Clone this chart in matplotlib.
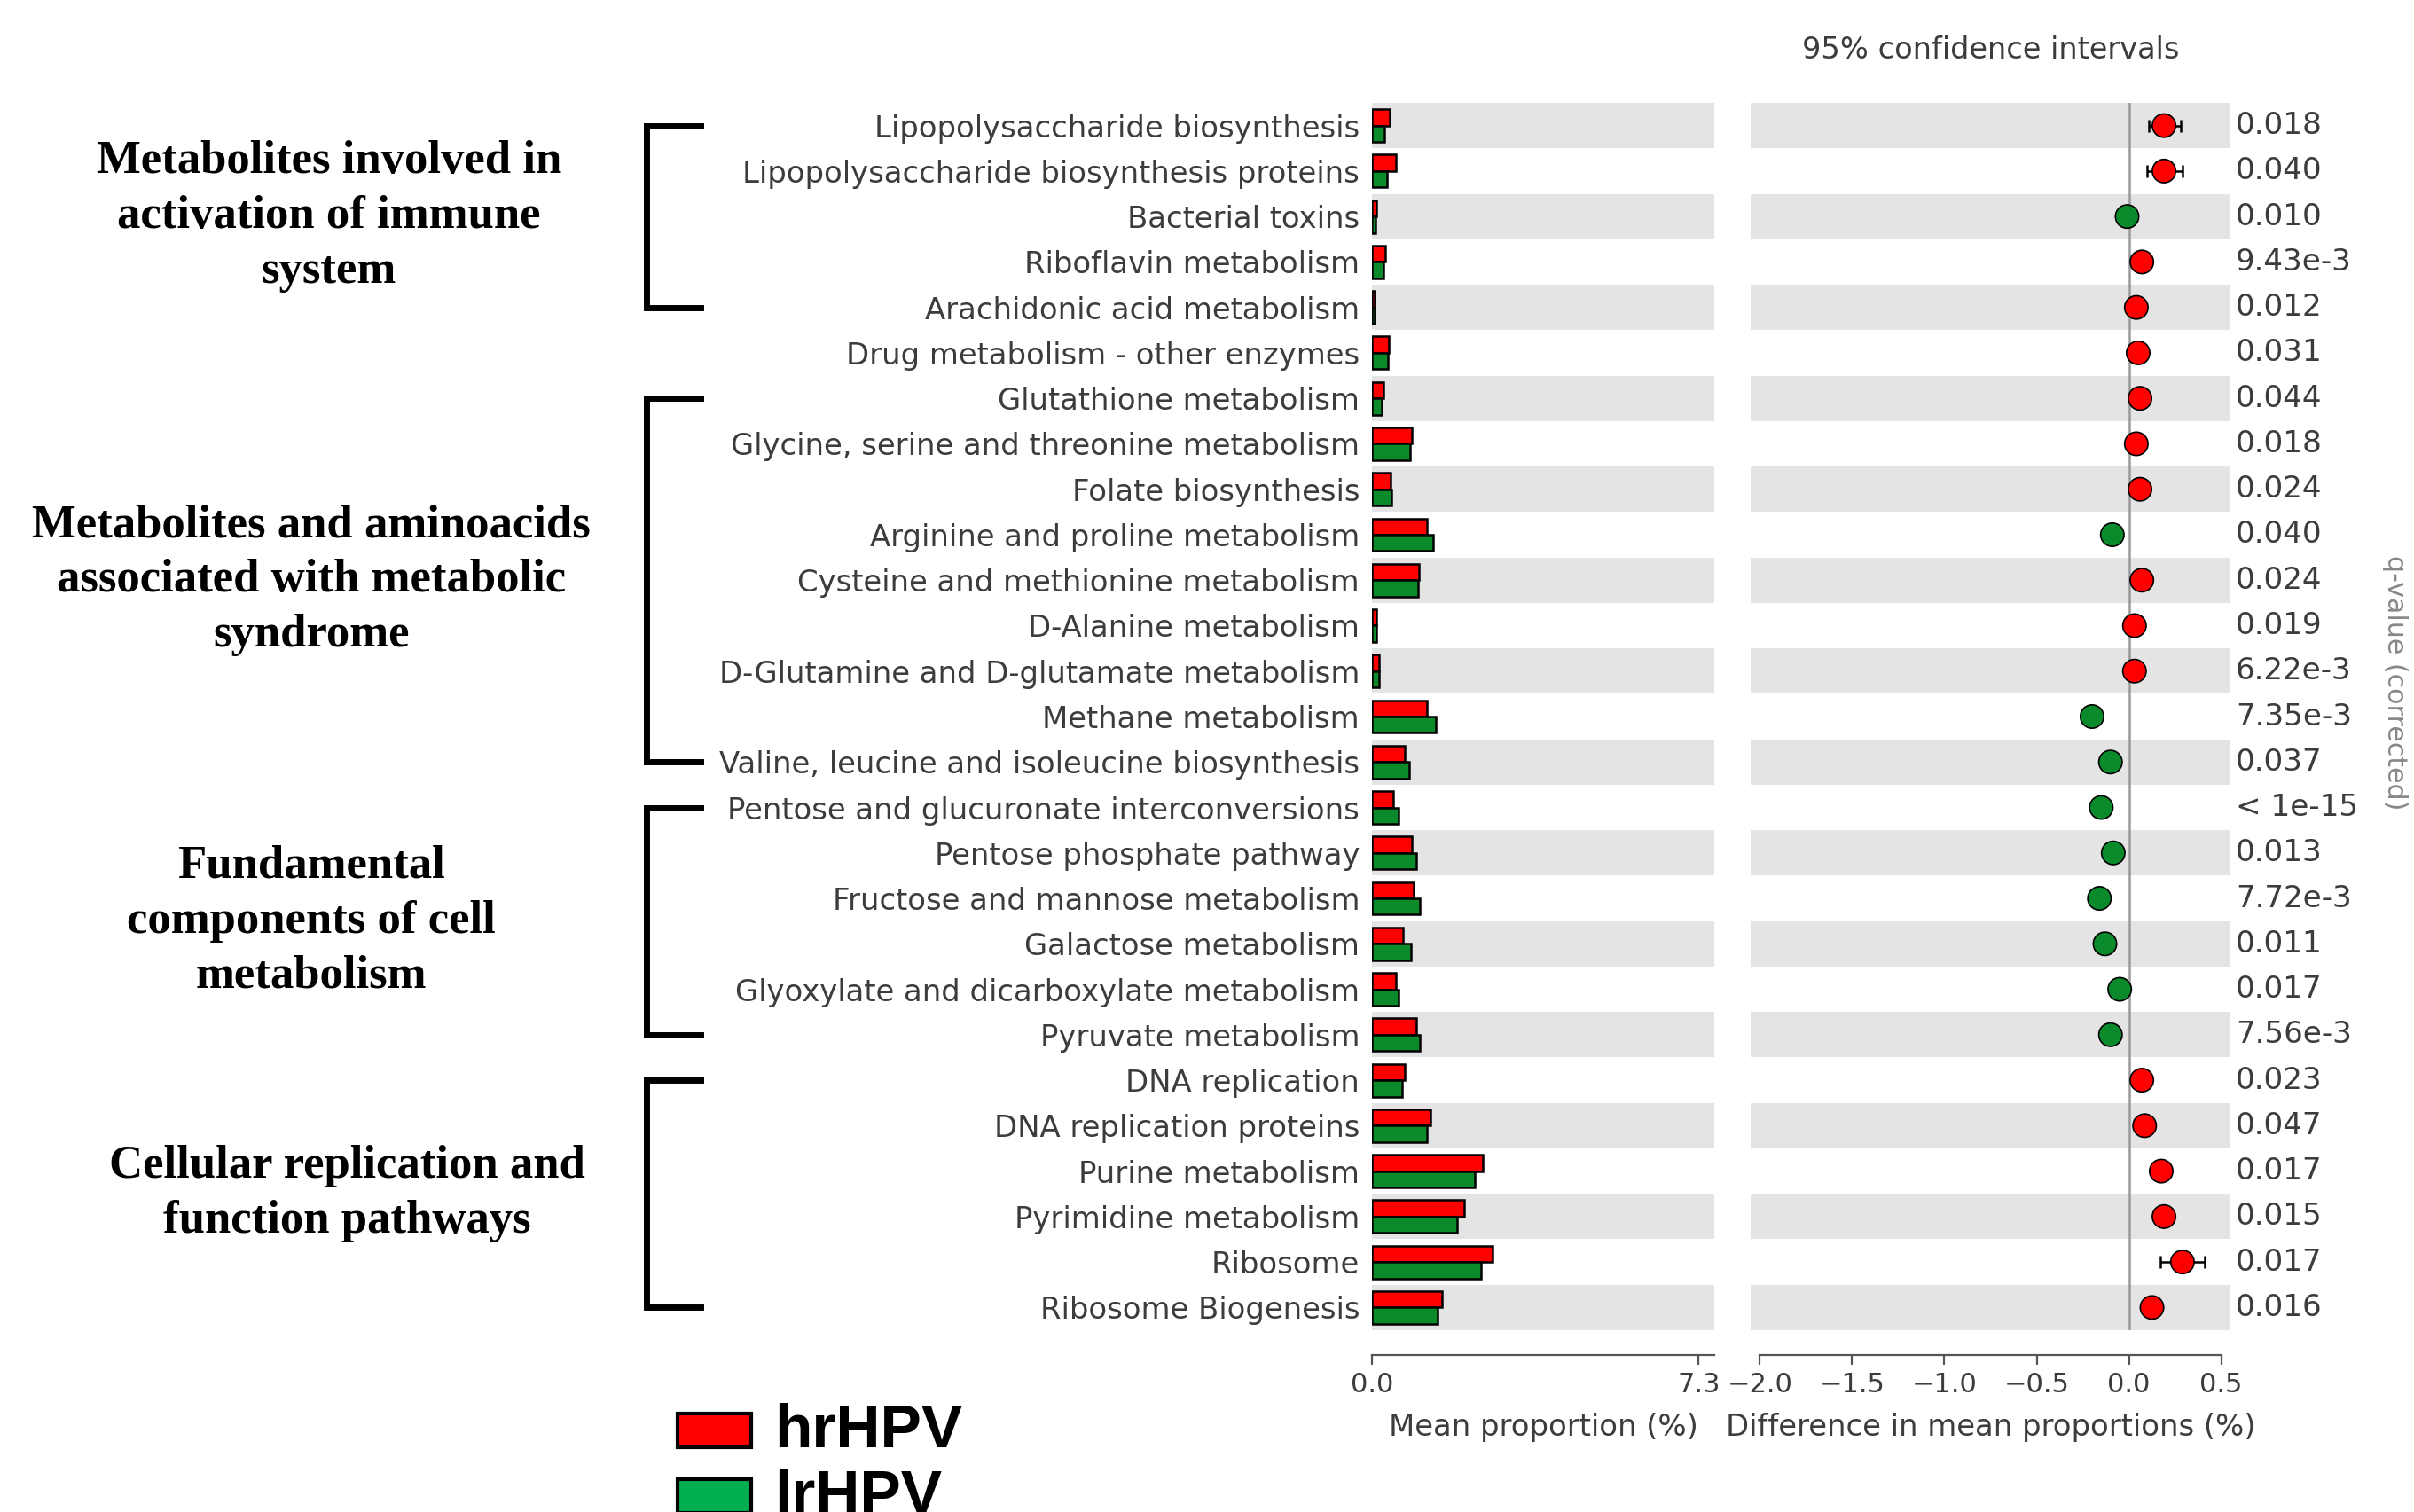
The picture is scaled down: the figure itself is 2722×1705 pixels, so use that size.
import numpy as np
import matplotlib
matplotlib.use("Agg")
import matplotlib.pyplot as plt
from matplotlib.patches import Rectangle
from matplotlib.lines import Line2D
from matplotlib.transforms import blended_transform_factory

# pathways, top to bottom
pathways = [
    "Lipopolysaccharide biosynthesis",
    "Lipopolysaccharide biosynthesis proteins",
    "Bacterial toxins",
    "Riboflavin metabolism",
    "Arachidonic acid metabolism",
    "Drug metabolism - other enzymes",
    "Glutathione metabolism",
    "Glycine, serine and threonine metabolism",
    "Folate biosynthesis",
    "Arginine and proline metabolism",
    "Cysteine and methionine metabolism",
    "D-Alanine metabolism",
    "D-Glutamine and D-glutamate metabolism",
    "Methane metabolism",
    "Valine, leucine and isoleucine biosynthesis",
    "Pentose and glucuronate interconversions",
    "Pentose phosphate pathway",
    "Fructose and mannose metabolism",
    "Galactose metabolism",
    "Glyoxylate and dicarboxylate metabolism",
    "Pyruvate metabolism",
    "DNA replication",
    "DNA replication proteins",
    "Purine metabolism",
    "Pyrimidine metabolism",
    "Ribosome",
    "Ribosome Biogenesis",
]

# mean proportion (%)
hr_mean = [0.40, 0.54, 0.09, 0.30, 0.05, 0.38, 0.26, 0.90, 0.42, 1.22, 1.06,
           0.10, 0.16, 1.23, 0.73, 0.47, 0.90, 0.93, 0.70, 0.53, 1.00,
           0.73, 1.30, 2.47, 2.07, 2.70, 1.57]
lr_mean = [0.28, 0.34, 0.08, 0.26, 0.05, 0.36, 0.22, 0.86, 0.44, 1.36, 1.03,
           0.10, 0.16, 1.43, 0.83, 0.60, 1.00, 1.07, 0.87, 0.60, 1.07,
           0.67, 1.23, 2.30, 1.90, 2.43, 1.47]

# difference in mean proportions (%) with 95% CI
diff = [0.19, 0.19, -0.01, 0.07, 0.04, 0.05, 0.06, 0.04, 0.06, -0.09, 0.07,
        0.03, 0.03, -0.20, -0.10, -0.15, -0.085, -0.16, -0.13, -0.05, -0.10,
        0.07, 0.085, 0.175, 0.19, 0.29, 0.125]
ci_low = [0.11, 0.10, -0.03, 0.05, 0.02, 0.03, 0.04, 0.02, 0.04, -0.12, 0.05,
          0.02, 0.02, -0.23, -0.13, -0.18, -0.11, -0.19, -0.16, -0.07, -0.13,
          0.05, 0.06, 0.13, 0.14, 0.17, 0.10]
ci_high = [0.28, 0.29, 0.01, 0.09, 0.06, 0.07, 0.08, 0.06, 0.08, -0.06, 0.09,
           0.04, 0.04, -0.17, -0.07, -0.12, -0.06, -0.13, -0.10, -0.03, -0.07,
           0.09, 0.11, 0.22, 0.24, 0.41, 0.15]

qvalues = ["0.018", "0.040", "0.010", "9.43e-3", "0.012", "0.031", "0.044",
           "0.018", "0.024", "0.040", "0.024", "0.019", "6.22e-3", "7.35e-3",
           "0.037", "< 1e-15", "0.013", "7.72e-3", "0.011", "0.017", "7.56e-3",
           "0.023", "0.047", "0.017", "0.015", "0.017", "0.016"]

groups = [
    "Metabolites involved in\nactivation of immune\nsystem",
    "Metabolites and aminoacids\nassociated with metabolic\nsyndrome",
    "Fundamental\ncomponents of cell\nmetabolism",
    "Cellular replication and\nfunction pathways",
]
group_rows = [(0, 4), (6, 14), (15, 20), (21, 26)]
group_x = [371, 351, 351, 391]   # label centres, pixels

RED = "#ff0000"
GREEN = "#0a8a2a"
TXT = "#3c3c3c"
BAND = "#e4e4e4"

W, H = 2722, 1705
def fx(px):
    return px / W
def fy(py):
    return 1 - py / H

fig = plt.figure(figsize=(W / 200, H / 200), dpi=200)
plt.rcParams['font.family'] = ['DejaVu Sans']

top, bot = 116, 1500
ax1 = fig.add_axes([fx(1547), fy(bot), (1933 - 1547) / W, (bot - top) / H])
ax2 = fig.add_axes([fx(1974), fy(bot), (2515 - 1974) / W, (bot - top) / H])

n = len(pathways)
y = np.arange(n)

for ax in (ax1, ax2):
    for i in range(0, n, 2):
        ax.axhspan(i - 0.5, i + 0.5, color=BAND, lw=0, zorder=0)
    ax.set_ylim(n - 0.5, -0.5)
    for s in ("top", "right", "left"):
        ax.spines[s].set_visible(False)
    ax.spines["bottom"].set_position(("outward", 10))
    ax.spines["bottom"].set_color("#555555")
    ax.tick_params(axis="x", colors="#555555", labelcolor=TXT, labelsize=11,
                   length=4, pad=3)

# mean proportion bars
h = 0.36
ax1.barh(y - h / 2, hr_mean, height=h, color=RED, edgecolor="black", lw=0.9, zorder=2)
ax1.barh(y + h / 2, lr_mean, height=h, color=GREEN, edgecolor="black", lw=0.9, zorder=2)
ax1.set_xlim(0, 7.65)
ax1.set_xticks([0, 7.3])
ax1.set_xticklabels(["0.0", "7.3"])
ax1.set_yticks(y)
ax1.set_yticklabels(pathways, fontsize=12.2, color=TXT)
ax1.tick_params(axis="y", length=0, pad=5)
ax1.set_xlabel("Mean proportion (%)", fontsize=12.2, color=TXT, labelpad=6)

# difference with CI
ax2.axvline(0, color="#999999", lw=0.9, zorder=1)
d = np.array(diff)
err = [d - np.array(ci_low), np.array(ci_high) - d]
colors = [RED if v > 0 else GREEN for v in diff]
ax2.errorbar(d, y, xerr=err, fmt="none", ecolor="black", elinewidth=0.9,
             capsize=2.5, capthick=0.9, zorder=3)
ax2.scatter(d, y, s=90, c=colors, edgecolors="black", linewidths=0.6, zorder=4)
ax2.set_xlim(-2.05, 0.55)
ax2.set_xticks([-2.0, -1.5, -1.0, -0.5, 0.0, 0.5])
ax2.spines["bottom"].set_bounds(-2.0, 0.5)
ax2.set_yticks([])
ax2.set_xlabel("Difference in mean proportions (%)", fontsize=12.2, color=TXT, labelpad=6)
ax2.set_title("95% confidence intervals", fontsize=12.1, color=TXT, pad=18)

tr = blended_transform_factory(fig.transFigure, ax2.transData)
for i, q in enumerate(qvalues):
    ax2.text(fx(2521), i, q, transform=tr, fontsize=12.3, color=TXT,
             va="center", ha="left")
fig.text(fx(2700), fy(770), "q-value (corrected)", rotation=270, fontsize=10.8,
         color="#888888", ha="center", va="center")

# group brackets and labels
trb = blended_transform_factory(fig.transFigure, ax1.transData)
for name, (r0, r1), gx in zip(groups, group_rows, group_x):
    xs = [fx(790), fx(729), fx(729), fx(790)]
    ys = [r0, r0, r1, r1]
    fig.add_artist(Line2D(xs, ys, transform=trb, color="black", lw=2.5,
                          solid_joinstyle="miter"))
    fig.text(fx(gx), (r0 + r1) / 2, name, transform=trb, ha="center",
             va="center", fontsize=19, fontweight="bold",
             family="Liberation Serif", linespacing=1.37, color="black")

# legend
for lab, col, py in (("hrHPV", RED, 1594), ("lrHPV", "#00b050", 1668)):
    fig.add_artist(Rectangle((fx(764), fy(py + 38)), 83 / W, 38 / H,
                             transform=fig.transFigure, facecolor=col,
                             edgecolor="black", lw=1.5))
    fig.text(fx(873), fy(py + 20), lab, fontsize=25, fontweight="bold",
             family="Liberation Sans", va="center", ha="left")

fig.savefig("out.png", dpi=200, facecolor="white")
